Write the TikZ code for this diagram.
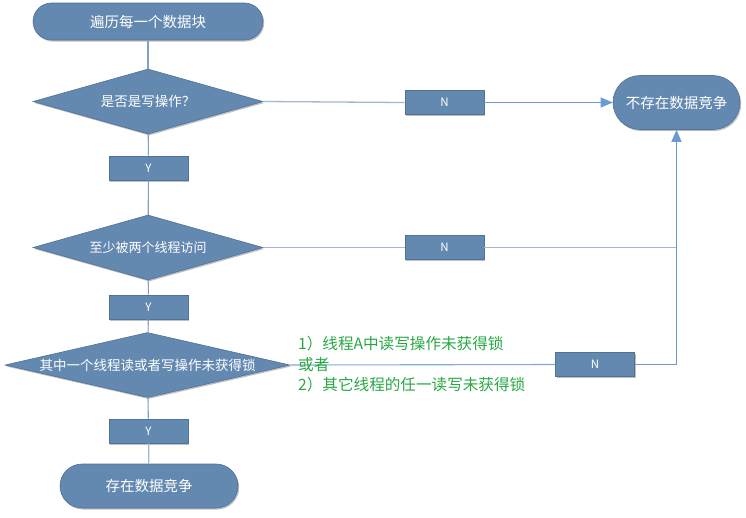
\documentclass[tikz,border=0pt]{standalone}
\usepackage{fontspec}
\setmainfont{Noto Sans CJK SC}
\usetikzlibrary{shapes.geometric,arrows.meta,shadows}
\definecolor{boxfill}{HTML}{6389B1}
\definecolor{boxedge}{HTML}{4F7298}
\definecolor{linegray}{HTML}{A3B7CD}
\definecolor{lineblue}{HTML}{6A9BD5}
\definecolor{note}{HTML}{27A844}
\tikzset{
  shd/.style={drop shadow={shadow xshift=1.2pt, shadow yshift=-1.5pt, opacity=0.25, fill=black}},
  term/.style={rectangle, fill=boxfill, draw=boxedge, line width=0.6pt, text=white, inner sep=0pt, shd},
  dec/.style={diamond, fill=boxfill, draw=boxedge, line width=0.6pt, text=white, inner sep=0pt, shd},
  lab/.style={rectangle, fill=boxfill, draw=boxedge, line width=0.6pt, text=white, inner sep=0pt,
              minimum width=79pt, minimum height=24pt, font=\fontsize{11.5}{13}\selectfont, shd},
  conn/.style={draw=linegray, line width=1.3pt},
  vconn/.style={draw=boxfill!80, line width=1.1pt},
  arrowline/.style={draw=lineblue, line width=1.2pt, -{Triangle[length=12pt,width=10pt]}},
}
\begin{document}
\begin{tikzpicture}[x=1pt,y=-1pt]
\useasboundingbox (0,0) rectangle (746,517);

% nodes
\node[term, minimum width=230pt, minimum height=37pt, rounded corners=18.5pt,
      font=\fontsize{14.5}{16}\selectfont] (start) at (148,21.5) {遍历每一个数据块};
\node[dec, minimum width=230pt, minimum height=65pt, shape aspect=3.5,
      font=\fontsize{13.5}{15}\selectfont] (d1) at (148,101.5) {是否是写操作？};
\node[lab] (y1) at (148.5,168) {Y};
\node[dec, minimum width=230pt, minimum height=65pt, shape aspect=3.5,
      font=\fontsize{13}{15}\selectfont] (d2) at (148,247.5) {至少被两个线程访问};
\node[lab] (y2) at (148.5,307) {Y};
\node[dec, minimum width=285pt, minimum height=65pt, shape aspect=4.4,
      font=\fontsize{13.5}{15}\selectfont] (d3) at (147.5,365) {其中一个线程读或者写操作未获得锁};
\node[lab] (y3) at (148.5,431) {Y};
\node[term, minimum width=178pt, minimum height=44pt, rounded corners=22pt,
      font=\fontsize{14.5}{16}\selectfont] (end) at (149,486) {存在数据竞争};
\node[term, minimum width=127pt, minimum height=54pt, rounded corners=27pt,
      font=\fontsize{14.5}{16}\selectfont] (t) at (676.5,102.5) {不存在数据竞争};
\node[lab] (n1) at (444.5,102.5) {N};
\node[lab] (n2) at (444.5,247.5) {N};
\node[lab] (n3) at (595,364.5) {N};

% connectors
\draw[vconn] (start) -- (d1);
\draw[vconn] (d1) -- (y1);
\draw[vconn] (y1) -- (d2);
\draw[vconn] (d2) -- (y2);
\draw[vconn] (y2) -- (d3);
\draw[vconn] (d3) -- (y3);
\draw[conn] (y3) -- (end);
\draw[conn] (d1.east) -- (n1.west);
\draw[arrowline] (n1.east) -- (t.west);
\draw[conn] (d2.east) -- (n2.west);
\draw[conn] (n2.east) -- (t.south |- n2.east);
\draw[lineblue!85, line width=1.1pt] (d3.east) -- (n3.west);
\draw[arrowline] (n3.east) -| (t.south);

% note
\node[anchor=west, align=left, text=note, inner sep=0pt,
      font=\fontsize{15.6}{20.5}\selectfont] (note) at (298,364.5)
  {1）线程A中读写操作未获得锁\\或者\\2）其它线程的任一读写未获得锁};
\end{tikzpicture}
\end{document}
